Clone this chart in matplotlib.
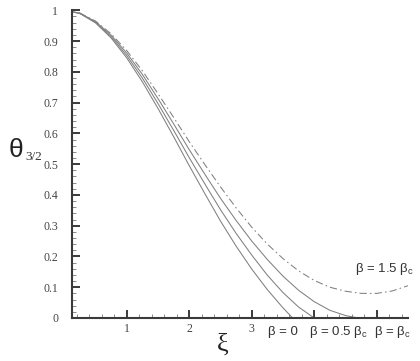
import numpy as np
import matplotlib
matplotlib.use('Agg')
import matplotlib.pyplot as plt
from matplotlib.ticker import MultipleLocator, FixedLocator

plt.rcParams['mathtext.fontset'] = 'custom'
plt.rcParams['mathtext.rm'] = 'Liberation Sans'
plt.rcParams['mathtext.it'] = 'Liberation Sans'

# values (xi, theta_3/2)
xi_b0 = [0.0, 0.25, 0.5, 0.75, 1.0, 1.25, 1.5, 1.75, 2.0, 2.25, 2.5, 2.75, 3.0, 3.25, 3.5, 3.654]
th_b0 = [1.0, 0.9896, 0.9591, 0.9101, 0.8452, 0.7676, 0.6811, 0.5894, 0.495, 0.404, 0.315, 0.2335, 0.159, 0.092, 0.033, 0.0]

xi_b05 = [0.0, 0.25, 0.5, 0.75, 1.0, 1.25, 1.5, 1.75, 2.0, 2.25, 2.5, 2.75, 3.0, 3.25, 3.5, 3.75, 4.0]
th_b05 = [1.0, 0.9901, 0.9611, 0.9146, 0.853, 0.7796, 0.697, 0.610, 0.521, 0.4355, 0.352, 0.275, 0.2045, 0.139, 0.0825, 0.0355, 0.0]

xi_b1 = [0.0, 0.25, 0.5, 0.75, 1.0, 1.25, 1.5, 1.75, 2.0, 2.25, 2.5, 2.75, 3.0, 3.25, 3.5, 3.75, 4.0, 4.25, 4.5, 4.65, 4.77]
th_b1 = [1.0, 0.9906, 0.9633, 0.9191, 0.861, 0.7916, 0.713, 0.631, 0.547, 0.467, 0.389, 0.317, 0.25, 0.19, 0.136, 0.09, 0.053, 0.025, 0.008, 0.002, 0.0]

xi_b15 = [0.0, 0.25, 0.5, 0.75, 1.0, 1.25, 1.5, 1.75, 2.0, 2.25, 2.5, 2.75, 3.0, 3.25, 3.5, 3.75, 4.0, 4.25, 4.5, 4.75, 5.0, 5.25, 5.5]
th_b15 = [1.0, 0.9911, 0.9651, 0.9236, 0.869, 0.8036, 0.729, 0.652, 0.573, 0.4985, 0.426, 0.358, 0.295, 0.24, 0.193, 0.153, 0.122, 0.1, 0.087, 0.08, 0.08, 0.088, 0.105]

x_major = [1, 2, 3, 4, 5]
x_ticklabels = ['1', '2', '3', '', '']
y_major = [0, 0.1, 0.2, 0.3, 0.4, 0.5, 0.6, 0.7, 0.8, 0.9, 1]
y_ticklabels = ['0', '0.1', '0.2', '0.3', '0.4', '0.5', '0.6', '0.7', '0.8', '0.9', '1']

beta_labels = [r'β = 0', r'β = 0.5 β$_{\rm c}$', r'β = β$_{\rm c}$']
beta_label_x = [3.5, 4.38, 5.25]

fig = plt.figure(figsize=(4.2, 3.61), dpi=100)
ax = fig.add_axes([72/420, 43/361, 336/420, 307.7/361])

lc = '#808080'
ax.plot(xi_b0, th_b0, color=lc, lw=0.75)
ax.plot(xi_b05, th_b05, color=lc, lw=0.75)
ax.plot(xi_b1, th_b1, color=lc, lw=0.75)
ax.plot(xi_b15, th_b15, color=lc, lw=0.75, ls=(0, (7, 3, 1.5, 3)))

ax.set_xlim(5.5 - 336/62.5, 5.5)
ax.set_ylim(0, 1)

for s in ['top', 'right']:
    ax.spines[s].set_visible(False)
for s in ['left', 'bottom']:
    ax.spines[s].set_color('#3a3a3a')
    ax.spines[s].set_linewidth(1.5)

ax.xaxis.set_major_locator(FixedLocator(x_major))
ax.set_xticklabels(x_ticklabels)
ax.xaxis.set_minor_locator(MultipleLocator(0.2))
ax.yaxis.set_major_locator(FixedLocator(y_major))
ax.set_yticklabels(y_ticklabels)
ax.yaxis.set_minor_locator(MultipleLocator(0.02))

ax.tick_params(which='major', direction='in', length=6, width=1.4, color='#3a3a3a',
               labelsize=8.5, labelcolor='#444444')
ax.tick_params(which='minor', direction='in', length=3, width=0.6, color='#777777')
ax.tick_params(axis='y', which='major', pad=10)
ax.tick_params(axis='x', which='major', pad=3.5)
for lab in ax.get_xticklabels() + ax.get_yticklabels():
    lab.set_family('Liberation Serif')

for txt, xv in zip(beta_labels, beta_label_x):
    ax.text(xv, -0.045, txt, ha='center', va='center', fontsize=9.5,
            family='Liberation Sans', color='#333333', clip_on=False)
ax.text(5.13, 0.16, r'β = 1.5 β$_{\rm c}$', ha='center', va='center', fontsize=9.5,
        family='Liberation Sans', color='#333333', clip_on=False)

# axis titles
fig.text(16/420, 1 - 150/361, 'θ', ha='center', va='center', fontsize=19,
         family='Liberation Sans', color='#222222')
fig.text(34/420, 1 - 157/361, '3/2', ha='center', va='center', fontsize=9.5,
         family='Liberation Serif', color='#333333')
fig.text(223/420, 1 - 345/361, 'ξ', ha='center', va='center', fontsize=19,
         family='Liberation Serif', color='#222222')

fig.savefig('out.png', dpi=100)
